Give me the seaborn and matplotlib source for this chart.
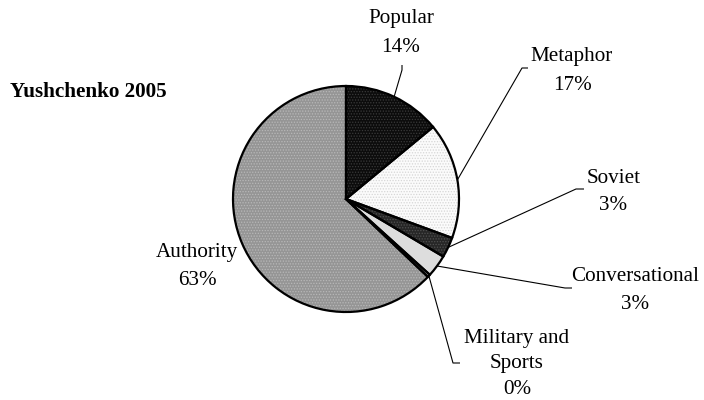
import matplotlib
matplotlib.use("Agg")
import matplotlib.pyplot as plt
import numpy as np
import seaborn as sns

# Shares of rhetorical styles, clockwise from twelve o'clock
categories = ["Popular", "Metaphor", "Soviet", "Conversational",
              "Military and Sports", "Authority"]
shares = [14.0, 16.6, 2.9, 3.2, 0.4, 62.9]
pct_labels = ["14%", "17%", "3%", "3%", "0%", "63%"]
label_lines = [["Popular"], ["Metaphor"], ["Soviet"], ["Conversational"],
               ["Military and", "Sports"], ["Authority"]]
fills = ["#0c0c0c", "#fbfbfb", "#262626", "#dddddd", "#dddddd", "#959595"]
dots = ["#3a3a3a", "#d6d6d6", "#505050", "#dddddd", "#dddddd", "#b8b8b8"]
title = "Yushchenko 2005"

sns.set_theme(style="white")
plt.rcParams["font.family"] = ["Liberation Serif", "DejaVu Serif"]
plt.rcParams["hatch.linewidth"] = 0.6

W, H = 704, 400
fig = plt.figure(figsize=(W / 100, H / 100), dpi=100)
ax = fig.add_axes([0, 0, 1, 1])

# pixel-like coordinate system, y grows downward
cx, cy, R = 346, 199, 113
pie_kw = dict(center=(cx, cy), radius=R, startangle=-90,
              counterclock=True, frame=True)

# flat fills
ax.pie(shares, colors=fills, wedgeprops=dict(linewidth=0), **pie_kw)
# dotted texture on top of the fills
tex, _ = ax.pie(shares, colors=["none"] * len(shares),
                wedgeprops=dict(linewidth=0), **pie_kw)
for w, c in zip(tex, dots):
    w.set_hatch("......")
    w.set_edgecolor(c)
    w.set_linewidth(0)
# black outlines
wedges, _ = ax.pie(shares, colors=["none"] * len(shares),
                   wedgeprops=dict(edgecolor="black", linewidth=1.6),
                   **pie_kw)

ax.set_xlim(0, W)
ax.set_ylim(H, 0)
ax.set_aspect("equal")
ax.axis("off")

FS = 15.2

# text block: centre x, first baseline, spacing
text_pos = [(401, 22.5, 29.5), (572, 61.5, 28), (613.5, 182.7, 27.5),
            (635.5, 281, 28), (517, 342.5, 25.5), (197, 257, 28)]
# leader line: end near the label, then short elbow
elbows = [((402, 65), (402, 70)),
          ((528, 68), (522, 68)),
          ((584, 189), (576, 189)),
          ((572, 288), (565, 288)),
          ((460, 363), (453, 363)),
          None]

for w, lines, pct, (tx, ty, sp), elb in zip(wedges, label_lines, pct_labels,
                                            text_pos, elbows):
    for i, s in enumerate(lines + [pct]):
        ax.text(tx, ty + i * sp, s, ha="center", va="baseline",
                fontsize=FS, color="black")
    if elb is not None:
        mid = np.deg2rad((w.theta1 + w.theta2) / 2)
        ex, ey = cx + R * np.cos(mid), cy + R * np.sin(mid)
        (x0, y0), (x1, y1) = elb
        ax.plot([x0, x1, ex], [y0, y1, ey], color="black", lw=0.8,
                solid_capstyle="butt", zorder=0.5)

ax.text(10, 97, title, ha="left", va="baseline", fontsize=FS,
        fontweight="bold", color="black")

fig.savefig("out.png", dpi=100, facecolor="white")
